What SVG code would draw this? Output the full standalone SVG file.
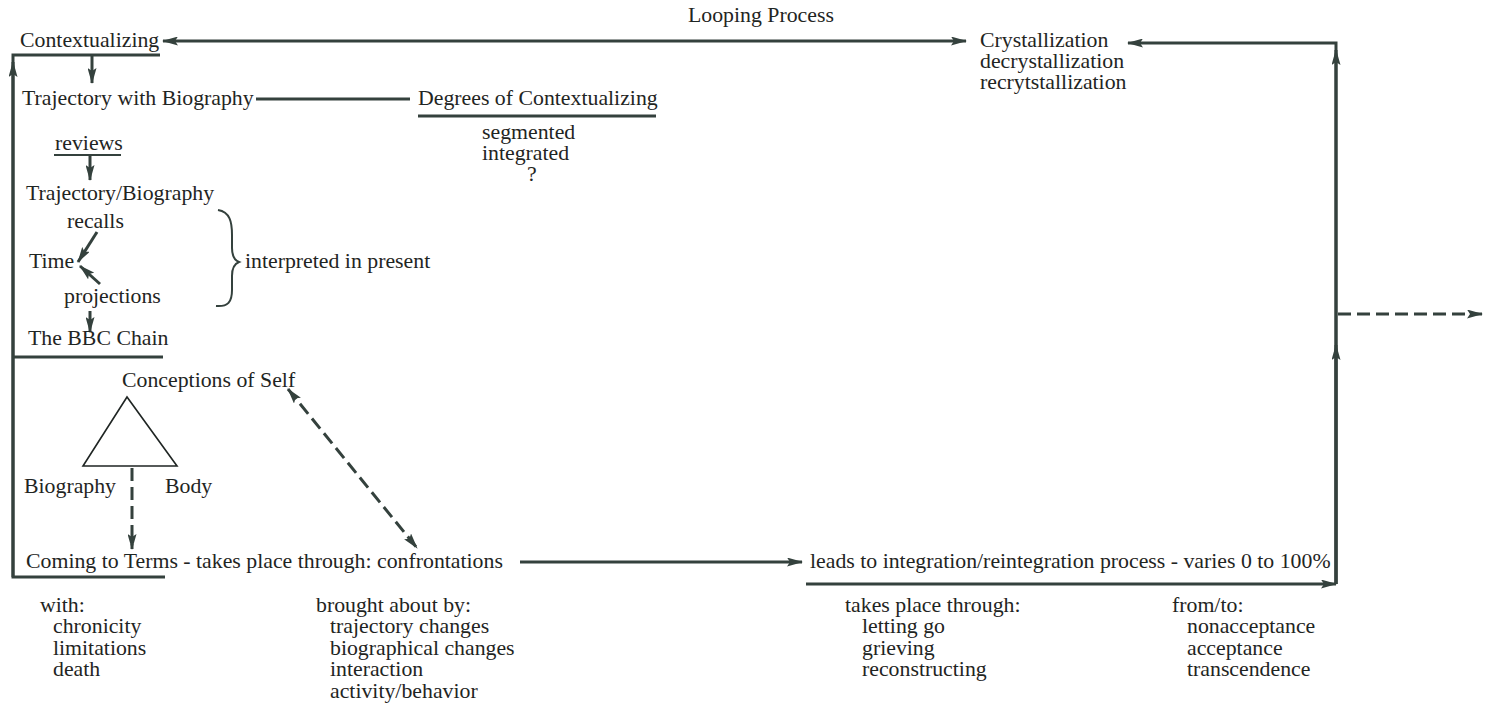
<svg xmlns="http://www.w3.org/2000/svg" width="1487" height="710" viewBox="0 0 1487 710">
  <style>
    text { font-family: "Liberation Serif", "DejaVu Serif", serif; font-size: 21.8px; fill: #1f2523; }
    .ln { stroke: #34413d; stroke-width: 3; fill: none; }
    .thin { stroke: #34413d; stroke-width: 2; fill: none; }
    .dash { stroke: #34413d; stroke-width: 3; fill: none; stroke-dasharray: 13 6; }
    .tri { stroke: #1f2523; stroke-width: 1.6; fill: none; }
  </style>
  <defs>
    <marker id="ah" viewBox="0 0 16 9" refX="15" refY="4.5" markerWidth="16" markerHeight="9" markerUnits="userSpaceOnUse" orient="auto-start-reverse">
      <path d="M0,0 L16,4.5 L0,9 L3,4.5 Z" fill="#34413d"/>
    </marker>
  </defs>

  <rect width="1487" height="710" fill="#ffffff"/>

  <!-- connectors -->
  <g id="connectors">
    <!-- looping process, top -->
    <line class="ln" x1="163" y1="41" x2="966" y2="41" marker-start="url(#ah)" marker-end="url(#ah)"/>
    <!-- right return loop -->
    <polyline class="ln" points="1336,584 1336,43 1128,43" marker-end="url(#ah)"/>
    <line class="ln" x1="1336" y1="584" x2="1336" y2="50" marker-end="url(#ah)"/>
    <line class="ln" x1="1336" y1="584" x2="1336" y2="345" marker-end="url(#ah)"/>
    <line class="dash" x1="1338" y1="314" x2="1482" y2="314" marker-end="url(#ah)"/>
    <!-- left return loop -->
    <polyline class="ln" points="165,577 13,577 13,55 160,55"/>
    <line class="ln" x1="13" y1="577" x2="13" y2="62" marker-end="url(#ah)"/>
    <line class="ln" x1="13" y1="357" x2="163" y2="357"/>
    <!-- left column chain -->
    <line class="ln" x1="92" y1="56" x2="92" y2="83" marker-end="url(#ah)"/>
    <line class="ln" x1="256" y1="99" x2="410" y2="99"/>
    <line class="ln" x1="90" y1="156" x2="90" y2="180" marker-end="url(#ah)"/>
    <line class="ln" x1="97" y1="232" x2="78" y2="262" marker-end="url(#ah)"/>
    <line class="ln" x1="100" y1="284" x2="80" y2="266" marker-end="url(#ah)"/>
    <line class="ln" x1="90" y1="311" x2="90" y2="332" marker-end="url(#ah)"/>
    <!-- self triangle links -->
    <line class="dash" x1="132" y1="468" x2="132" y2="549" marker-end="url(#ah)"/>
    <line class="dash" x1="288" y1="389" x2="417" y2="548" marker-start="url(#ah)" marker-end="url(#ah)"/>
    <!-- confrontations to integration -->
    <line class="ln" x1="520" y1="562" x2="802" y2="562" marker-end="url(#ah)"/>
    <line class="ln" x1="806" y1="584" x2="1336" y2="584" marker-end="url(#ah)"/>
    <!-- brace -->
    <path class="thin" d="M218,210 C230,212 232,222 232,235 L232,248 C232,256 234,260 239,262 C234,264 232,268 232,276 L232,290 C232,302 228,307 216,306"/>
  </g>

  <g id="looping-process"><text x="688" y="22">Looping Process</text></g>

  <g id="contextualizing">
    <text x="20" y="47">Contextualizing</text>
  </g>

  <g id="crystallization">
    <text x="980" y="47">Crystallization</text>
    <text x="980" y="68">decrystallization</text>
    <text x="980" y="89">recrytstallization</text>
  </g>

  <g id="trajectory-biography">
    <text x="22" y="105">Trajectory with Biography</text>
  </g>

  <g id="degrees">
    <text x="418" y="105">Degrees of Contextualizing</text>
    <line class="ln" x1="418" y1="116" x2="656" y2="116"/>
    <text x="482" y="139">segmented</text>
    <text x="482" y="160">integrated</text>
    <text x="527" y="181">?</text>
  </g>

  <g id="reviews">
    <text x="55" y="150">reviews</text>
    <line class="thin" x1="54" y1="155" x2="121" y2="155"/>
  </g>

  <g id="traj-bio">
    <text x="26" y="200">Trajectory/Biography</text>
  </g>

  <g id="time">
    <text x="67" y="228">recalls</text>
    <text x="29" y="268">Time</text>
    <text x="64" y="303">projections</text>
    <text x="245" y="268">interpreted in present</text>
  </g>

  <g id="bbc-chain">
    <text x="28" y="345">The BBC Chain</text>
  </g>

  <g id="conceptions-of-self">
    <text x="122" y="387">Conceptions of Self</text>
    <polygon class="tri" points="127,397 83,466 177,466"/>
    <text x="24" y="493">Biography</text>
    <text x="165" y="493">Body</text>
  </g>

  <g id="coming-to-terms">
    <text x="26" y="568">Coming to Terms - takes place through:  confrontations</text>
    <text x="40" y="612">with:</text>
    <text x="53" y="633">chronicity</text>
    <text x="53" y="655">limitations</text>
    <text x="53" y="676">death</text>
  </g>

  <g id="brought-about">
    <text x="316" y="612">brought about by:</text>
    <text x="330" y="633">trajectory changes</text>
    <text x="330" y="655">biographical changes</text>
    <text x="330" y="676">interaction</text>
    <text x="330" y="698">activity/behavior</text>
  </g>

  <g id="integration">
    <text x="810" y="568">leads to integration/reintegration process - varies 0 to 100%</text>
    <text x="845" y="612">takes place through:</text>
    <text x="862" y="633">letting go</text>
    <text x="862" y="655">grieving</text>
    <text x="862" y="676">reconstructing</text>
  </g>

  <g id="from-to">
    <text x="1172" y="612">from/to:</text>
    <text x="1187" y="633">nonacceptance</text>
    <text x="1187" y="655">acceptance</text>
    <text x="1187" y="676">transcendence</text>
  </g>
</svg>
